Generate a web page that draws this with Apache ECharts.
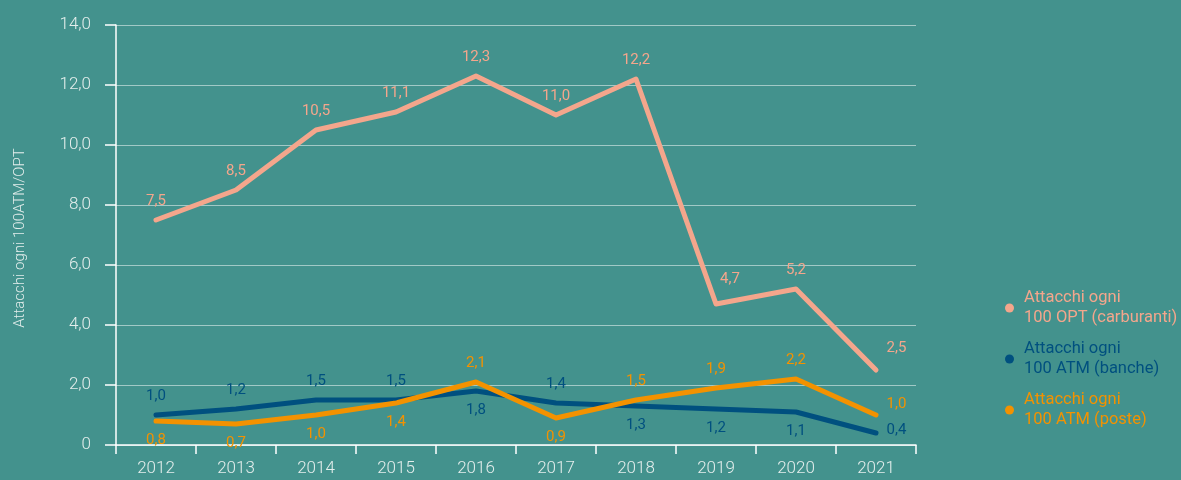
<!DOCTYPE html>
<html>
<head>
<meta charset="utf-8">
<style>
  html, body { margin: 0; padding: 0; background: #43928d; }
  #chart { width: 1181px; height: 480px; }
</style>
<script src="https://cdn.jsdelivr.net/npm/echarts@6/dist/echarts.min.js"></script>
</head>
<body>
<div id="chart"></div>
<script>
// Years on the category axis
const years = ['2012', '2013', '2014', '2015', '2016', '2017', '2018', '2019', '2020', '2021'];

// Attacks per 100 terminals
const carburanti = [7.5, 8.5, 10.5, 11.1, 12.3, 11.0, 12.2, 4.7, 5.2, 2.5];
const banche = [1.0, 1.2, 1.5, 1.5, 1.8, 1.4, 1.3, 1.2, 1.1, 0.4];
const poste = [0.8, 0.7, 1.0, 1.4, 2.1, 0.9, 1.5, 1.9, 2.2, 1.0];

// Series names (legend text)
const seriesNames = [
  'Attacchi ogni\n100 OPT (carburanti)',
  'Attacchi ogni\n100 ATM (banche)',
  'Attacchi ogni\n100 ATM (poste)'
];

const yAxisName = 'Attacchi ogni 100ATM/OPT';

// Where each value label sits relative to its point
const posCarburanti = ['top', 'top', 'top', 'top', 'top', 'top', 'top', 'top', 'top', 'right'];
const posBanche = ['top', 'top', 'top', 'top', 'bottom', 'top', 'bottom', 'bottom', 'bottom', 'right'];
const posPoste = ['bottom', 'bottom', 'bottom', 'bottom', 'top', 'bottom', 'top', 'top', 'top', 'right'];

// Extra nudges for labels that would otherwise sit on the line
const nudgeCarburanti = { 7: [14, -6], 9: [0, -22] };
const nudgeBanche = { 9: [0, -3] };
const nudgePoste = { 9: [0, -11] };

const COLORS = ['#f4a68c', '#00507f', '#f39200'];
const AXIS_TEXT = '#e4eeec';
const FONT = 'Roboto, "Noto Sans", sans-serif';

const fmt = v => v.toFixed(1).replace('.', ',');

function buildData(values, positions, nudges) {
  return values.map((v, i) => {
    const p = positions[i];
    const label = { position: p };
    if (p === 'right') label.distance = 10;
    if (nudges[i]) label.offset = nudges[i];
    return { value: v, label };
  });
}

function makeSeries(name, values, positions, color, nudges) {
  return {
    name,
    type: 'line',
    data: buildData(values, positions, nudges),
    symbol: 'circle',
    symbolSize: 1,
    showSymbol: true,
    itemStyle: { color },
    lineStyle: { color, width: 5, cap: 'round', join: 'round' },
    label: {
      show: true,
      distance: 11,
      color,
      fontFamily: FONT,
      fontSize: 15,
      formatter: p => fmt(p.value)
    },
    emphasis: { disabled: true },
    z: 3
  };
}

const chart = echarts.init(document.getElementById('chart'), null, { renderer: 'canvas' });

chart.setOption({
  backgroundColor: '#43928d',
  animation: false,
  grid: { left: 116, right: 265, top: 25, bottom: 35, containLabel: false },
  legend: {
    orient: 'vertical',
    left: 1000,
    top: 273,
    icon: 'circle',
    itemWidth: 9,
    itemHeight: 9,
    itemGap: -9,
    selectedMode: false,
    textStyle: {
      fontFamily: FONT,
      fontSize: 16.5,
      lineHeight: 20,
      padding: [20, 0, 0, 5]
    },
    data: seriesNames.map((n, i) => ({ name: n, textStyle: { color: COLORS[i] } }))
  },
  xAxis: {
    type: 'category',
    data: years,
    boundaryGap: true,
    axisLine: { show: true, lineStyle: { color: '#ffffff', width: 1.5 } },
    axisTick: { show: true, length: 9, alignWithLabel: false, lineStyle: { color: '#ffffff', width: 1.5 } },
    axisLabel: { color: AXIS_TEXT, fontFamily: FONT, fontSize: 17, fontWeight: 300, margin: 15 },
    splitLine: { show: false }
  },
  yAxis: {
    type: 'value',
    min: 0,
    max: 14,
    interval: 2,
    name: yAxisName,
    nameLocation: 'middle',
    nameGap: 88,
    nameRotate: 90,
    nameTextStyle: {
      color: AXIS_TEXT,
      fontFamily: FONT,
      fontSize: 15,
      fontWeight: 300,
      padding: [0, 6, 0, 0]
    },
    axisLine: { show: true, lineStyle: { color: '#ffffff', width: 1.5 } },
    axisTick: { show: true, length: 11, lineStyle: { color: '#ffffff', width: 1.5 } },
    axisLabel: {
      color: AXIS_TEXT,
      fontFamily: FONT,
      fontSize: 17,
      fontWeight: 300,
      margin: 25,
      formatter: v => (v === 0 ? '0' : fmt(v))
    },
    splitLine: { show: true, lineStyle: { color: 'rgba(255,255,255,0.5)', width: 1 } }
  },
  series: [
    makeSeries(seriesNames[0], carburanti, posCarburanti, COLORS[0], nudgeCarburanti),
    makeSeries(seriesNames[1], banche, posBanche, COLORS[1], nudgeBanche),
    makeSeries(seriesNames[2], poste, posPoste, COLORS[2], nudgePoste)
  ]
});
</script>
</body>
</html>
